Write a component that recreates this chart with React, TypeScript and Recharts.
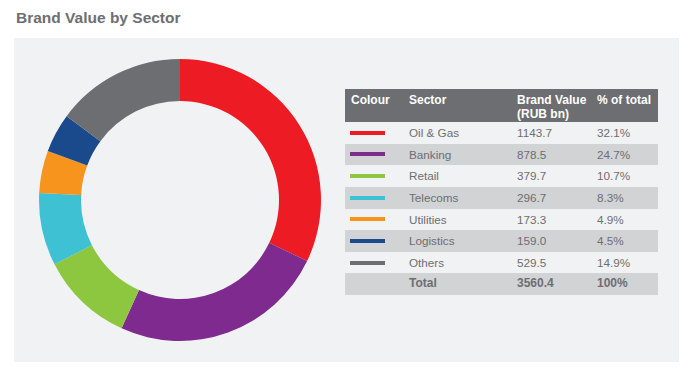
import { PieChart, Pie, Cell } from 'recharts';

const sectors = ['Oil & Gas', 'Banking', 'Retail', 'Telecoms', 'Utilities', 'Logistics', 'Others'];
const brandValues = [1143.7, 878.5, 379.7, 296.7, 173.3, 159.0, 529.5];
const shares = ['32.1%', '24.7%', '10.7%', '8.3%', '4.9%', '4.5%', '14.9%'];
const colours = ['#ed1c24', '#7f2a8f', '#8dc63f', '#3ec1d3', '#f7941d', '#1b4a8c', '#6d6e71'];
const totalValue = '3560.4';
const totalShare = '100%';

const data = sectors.map((name, i) => ({ name, value: brandValues[i] }));

const TEXT = '#6d6e71';
const PANEL = '#f1f2f4';
const STRIPE = '#d1d3d4';
const ROW_H = 21.625;

const font = 'Liberation Sans, Arial, Helvetica, sans-serif';

const col = { swatch: 5, sector: 64, value: 172, share: 252 };

function Row({ i, cells, bold }: { i: number; cells: React.ReactNode[]; bold?: boolean }) {
  return (
    <div
      style={{
        position: 'absolute',
        left: 0,
        top: 33 + i * ROW_H,
        width: 313,
        height: ROW_H,
        background: i % 2 === 1 ? STRIPE : 'transparent',
        fontWeight: bold ? 'bold' : 'normal',
        color: TEXT,
        fontSize: bold ? 12 : 11.7,
        lineHeight: `${ROW_H}px`,
      }}
    >
      <div style={{ position: 'absolute', left: col.swatch, top: 0, height: ROW_H, display: 'flex', alignItems: 'center' }}>
        {cells[0]}
      </div>
      <div style={{ position: 'absolute', left: col.sector }}>{cells[1]}</div>
      <div style={{ position: 'absolute', left: col.value }}>{cells[2]}</div>
      <div style={{ position: 'absolute', left: col.share }}>{cells[3]}</div>
    </div>
  );
}

export default function App() {
  return (
    <div style={{ position: 'absolute', left: 0, top: 0, width: 700, height: 382, background: '#fff', fontFamily: font }}>
      <div style={{ position: 'absolute', left: 16, top: 9, fontSize: 15.5, fontWeight: 'bold', color: TEXT }}>
        Brand Value by Sector
      </div>
      <div style={{ position: 'absolute', left: 14, top: 38, width: 665, height: 324, background: PANEL }}>
        <PieChart width={332} height={324} margin={{ top: 0, right: 0, bottom: 0, left: 0 }}>
          <Pie
            data={data}
            dataKey="value"
            nameKey="name"
            cx={166}
            cy={162}
            innerRadius={99}
            outerRadius={141}
            startAngle={90}
            endAngle={-270}
            stroke="none"
            isAnimationActive={false}
          >
            {data.map((entry, index) => (
              <Cell key={`cell-${index}`} fill={colours[index]} />
            ))}
          </Pie>
        </PieChart>
        <div style={{ position: 'absolute', left: 331, top: 51, width: 313, height: 206 }}>
          <div
            style={{
              position: 'absolute',
              left: 0,
              top: 0,
              width: 313,
              height: 33,
              background: TEXT,
              color: '#fff',
              fontWeight: 'bold',
              fontSize: 12,
              lineHeight: '14px',
            }}
          >
            <div style={{ position: 'absolute', left: col.swatch + 1, top: 4 }}>Colour</div>
            <div style={{ position: 'absolute', left: col.sector, top: 4 }}>Sector</div>
            <div style={{ position: 'absolute', left: col.value, top: 4 }}>
              Brand Value
              <br />
              (RUB bn)
            </div>
            <div style={{ position: 'absolute', left: col.share, top: 4 }}>% of total</div>
          </div>
          {sectors.map((s, i) => (
            <Row
              key={s}
              i={i}
              cells={[
                <div style={{ width: 35, height: 4, background: colours[i] }} />,
                s,
                brandValues[i].toFixed(1),
                shares[i],
              ]}
            />
          ))}
          <Row i={7} bold cells={[null, 'Total', totalValue, totalShare]} />
        </div>
      </div>
    </div>
  );
}
